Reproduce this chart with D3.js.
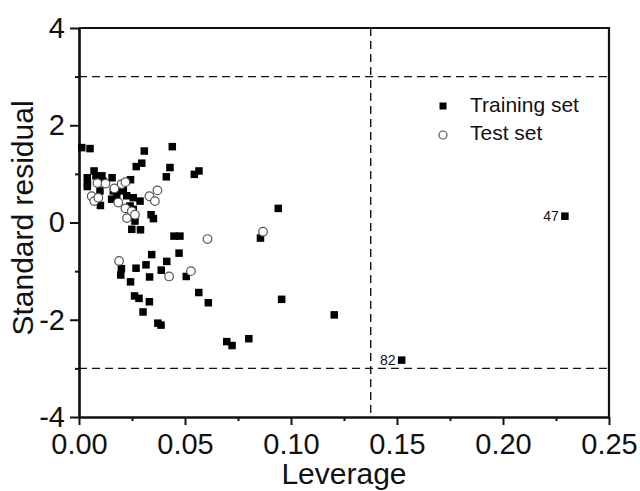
<!DOCTYPE html>
<html><head><meta charset="utf-8">
<script src="https://cdn.jsdelivr.net/npm/d3@7"></script>
<style>body{margin:0;background:#fff}svg{display:block}text{font-family:"Liberation Sans",Arial,sans-serif;fill:#111}</style>
</head><body><svg id="c" width="640" height="491"></svg>
<script>
// Training set: leverage, standardized residual
const trainLev = [0.0013,0.0052,0.0308,0.0440,0.0429,0.0412,0.0544,0.0566,0.0940,0.0270,0.0296,0.0071,0.0039,0.0040,0.0039,0.0080,0.0108,0.0113,0.0156,0.0243,0.0099,0.0154,0.0101,0.0162,0.0193,0.0209,0.0178,0.0225,0.0256,0.0288,0.0241,0.0256,0.0256,0.0264,0.0249,0.0290,0.0340,0.0351,0.0448,0.0476,0.0856,0.0343,0.0472,0.0200,0.0197,0.0269,0.0316,0.0414,0.0388,0.0333,0.0506,0.0243,0.0262,0.0283,0.0332,0.0302,0.0372,0.0387,0.0565,0.0610,0.0697,0.0722,0.0801,0.0956,0.1204,0.1522,0.2292];
const trainRes = [1.54,1.52,1.47,1.56,1.13,0.94,0.99,1.06,0.29,1.15,1.22,1.06,0.92,0.81,0.74,0.96,0.96,0.85,0.92,0.88,0.65,0.48,0.35,0.65,0.65,0.70,0.55,0.55,0.51,0.44,0.34,0.27,0.13,0.03,-0.14,-0.15,0.16,0.08,-0.28,-0.28,-0.32,-0.66,-0.63,-0.95,-1.08,-0.94,-0.87,-0.80,-0.98,-1.12,-1.11,-1.22,-1.51,-1.56,-1.63,-1.84,-2.07,-2.11,-1.44,-1.65,-2.45,-2.53,-2.39,-1.58,-1.90,-2.83,0.13];
// Test set
const testLev = [0.0060,0.0072,0.0091,0.0087,0.0125,0.0167,0.0201,0.0219,0.0185,0.0219,0.0226,0.0249,0.0264,0.0332,0.0370,0.0358,0.0606,0.0868,0.0189,0.0425,0.0528];
const testRes = [0.54,0.44,0.51,0.81,0.80,0.70,0.79,0.83,0.41,0.29,0.09,0.23,0.16,0.54,0.66,0.44,-0.34,-0.19,-0.79,-1.11,-1.00];
// Labelled outliers
const labelIds = ["47","82"];
const labelLev = [0.2292,0.1522];
const labelRes = [0.13,-2.83];
// Warning leverage h* and residual limits
const hStar = [0.1376];
const resLimits = [3,-3];
const xTicks = [0,0.05,0.10,0.15,0.20,0.25];
const xMinor = [0.025,0.075,0.125,0.175,0.225];
const yTicks = [-4,-2,0,2,4];
const yMinor = [-3,-1,1,3];
const seriesNames = ["Training set","Test set"];

const svg = d3.select("#c");
const x = d3.scaleLinear().domain([0,0.25]).range([79,609]);
const y = d3.scaleLinear().domain([-4,4]).range([417,28]);

// dashed reference lines
const g = svg.append("g");
g.selectAll("line.h").data(resLimits).join("line")
  .attr("x1",x(0)).attr("x2",x(0.25)).attr("y1",d=>y(d)).attr("y2",d=>y(d))
  .attr("stroke","#111").attr("stroke-width",1.4).attr("stroke-dasharray","8,5");
g.selectAll("line.v").data(hStar).join("line")
  .attr("x1",d=>x(d)).attr("x2",d=>x(d)).attr("y1",y(4)).attr("y2",y(-4))
  .attr("stroke","#111").attr("stroke-width",1.4).attr("stroke-dasharray","8,5");

// axes
const fmtX = d3.format(".2f");
const xAxis = svg.append("g").attr("transform",`translate(0,${y(-4)})`)
  .call(d3.axisBottom(x).tickValues(xTicks).tickFormat(fmtX).tickSizeInner(8).tickSizeOuter(0).tickPadding(8));
const xAxisMinor = svg.append("g").attr("transform",`translate(0,${y(-4)})`)
  .call(d3.axisBottom(x).tickValues(xMinor).tickFormat("").tickSizeInner(4).tickSizeOuter(0));
const yAxis = svg.append("g").attr("transform",`translate(${x(0)},0)`)
  .call(d3.axisLeft(y).tickValues(yTicks).tickFormat(d3.format("d")).tickSizeInner(9).tickSizeOuter(0).tickPadding(5));
const yAxisMinor = svg.append("g").attr("transform",`translate(${x(0)},0)`)
  .call(d3.axisLeft(y).tickValues(yMinor).tickFormat("").tickSizeInner(4).tickSizeOuter(0));
[xAxis,xAxisMinor,yAxis,yAxisMinor].forEach(a=>{
  a.selectAll(".domain").attr("stroke","#111").attr("stroke-width",2.2);
  a.selectAll(".tick line").attr("stroke","#111").attr("stroke-width",2);
});
xAxis.selectAll("text").attr("font-size",29).attr("fill","#111").attr("font-family","Liberation Sans, Arial, sans-serif");
yAxis.selectAll("text").attr("font-size",29).attr("fill","#111").attr("font-family","Liberation Sans, Arial, sans-serif");
yAxis.selectAll("text").text(d=>d<0?"-"+Math.abs(d):d);

// top and right frame
svg.append("path").attr("d",`M${x(0)},${y(4)}H${x(0.25)}V${y(-4)}`)
  .attr("fill","none").attr("stroke","#111").attr("stroke-width",2.2);

// training points
const sq = 7.5;
svg.append("g").selectAll("rect").data(trainLev.map((l,i)=>[l,trainRes[i]])).join("rect")
  .attr("x",d=>x(d[0])-sq/2).attr("y",d=>y(d[1])-sq/2).attr("width",sq).attr("height",sq).attr("fill","#000");
// test points
svg.append("g").selectAll("circle").data(testLev.map((l,i)=>[l,testRes[i]])).join("circle")
  .attr("cx",d=>x(d[0])).attr("cy",d=>y(d[1])).attr("r",4.3)
  .attr("fill","#fff").attr("stroke","#555").attr("stroke-width",1.2);

// outlier labels
svg.append("g").selectAll("text").data(labelIds.map((t,i)=>[t,labelLev[i],labelRes[i]])).join("text")
  .attr("x",d=>x(d[1])-6).attr("y",d=>y(d[2])+5).attr("text-anchor","end").attr("font-size",14).text(d=>d[0]);

// legend
const lg = svg.append("g");
lg.append("rect").attr("x",443-3.5).attr("y",106-3.5).attr("width",7).attr("height",7).attr("fill","#000");
lg.append("circle").attr("cx",443).attr("cy",135).attr("r",4).attr("fill","#fff").attr("stroke","#555").attr("stroke-width",1.2);
lg.selectAll("text").data(seriesNames).join("text")
  .attr("x",470).attr("y",(d,i)=>112+i*28).attr("font-size",21).text(d=>d);

// axis titles
svg.append("text").attr("x",344).attr("y",484).attr("text-anchor","middle").attr("font-size",30).text("Leverage");
svg.append("text").attr("transform","translate(33,218) rotate(-90)").attr("text-anchor","middle").attr("font-size",30).text("Standard residual");
</script></body></html>
